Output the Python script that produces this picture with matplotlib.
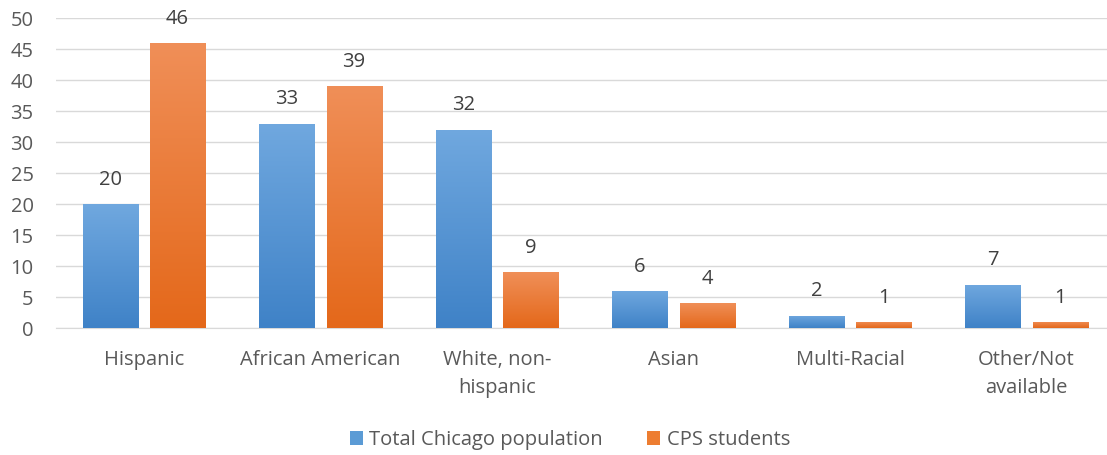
import matplotlib
matplotlib.use("Agg")
import matplotlib.pyplot as plt
import numpy as np
from matplotlib.colors import LinearSegmentedColormap
from matplotlib.patches import Patch

categories = ["Hispanic", "African American", "White, non-\nhispanic", "Asian", "Multi-Racial", "Other/Not\navailable"]
series_names = ["Total Chicago population", "CPS students"]
chicago = [20, 33, 32, 6, 2, 7]
cps = [46, 39, 9, 4, 1, 1]
yticks = [0, 5, 10, 15, 20, 25, 30, 35, 40, 45, 50]

plt.rcParams['font.family'] = ['Open Sans', 'DejaVu Sans']
txt = '#595959'
fs = 14.5

fig = plt.figure(figsize=(11.07, 4.55), dpi=100)
ax = fig.add_axes([0.0504, 0.279, 0.9566, 0.681])

x = np.arange(len(categories))
w = 0.312
off = 0.19

blue_cmap = LinearSegmentedColormap.from_list('b', ['#3F82C7', '#70A8DF'])
orange_cmap = LinearSegmentedColormap.from_list('o', ['#E4681A', '#F08F58'])
grad = np.linspace(0, 1, 256).reshape(-1, 1)

def draw(vals, xs, cmap, base):
    bars = ax.bar(xs, vals, width=w, color=base, zorder=3, linewidth=0)
    for b in bars:
        bx, by = b.get_x(), b.get_y()
        bw, bh = b.get_width(), b.get_height()
        im = ax.imshow(grad, cmap=cmap, origin='lower', aspect='auto',
                       extent=[bx, bx + bw, by, by + bh], zorder=4)
        im.set_clip_path(b)
    return bars

b1 = draw(chicago, x - off, blue_cmap, '#5B9BD5')
b2 = draw(cps, x + off, orange_cmap, '#ED7D31')

for xs, vals in ((x - off, chicago), (x + off, cps)):
    for xi, v in zip(xs, vals):
        ax.text(xi, v + 2.3, str(v), ha='center', va='bottom', fontsize=fs, color='#404040', zorder=5, clip_on=False)

ax.set_xlim(-0.5, len(categories) - 0.5)
ax.set_ylim(0, 50)
ax.set_yticks(yticks)
ax.set_xticks(x)
ax.set_xticklabels(categories, fontsize=fs, color=txt, linespacing=1.5)
ax.tick_params(axis='y', labelsize=fs, labelcolor=txt, length=0, pad=16)
ax.tick_params(axis='x', length=0, pad=16)
ax.yaxis.grid(True, color='#D9D9D9', linewidth=1, zorder=0)
ax.set_axisbelow(True)
for s in ['top', 'right', 'left']:
    ax.spines[s].set_visible(False)
ax.spines['bottom'].set_color('#D9D9D9')

handles = [Patch(facecolor='#5B9BD5'), Patch(facecolor='#ED7D31')]
fig.legend(handles, series_names, loc='center', bbox_to_anchor=(0.515, 0.033), ncol=2,
           frameon=False, fontsize=fs, labelcolor=txt, handlelength=0.65, handleheight=0.65,
           handletextpad=0.3, columnspacing=2.2)

fig.savefig('out.png', dpi=100)
